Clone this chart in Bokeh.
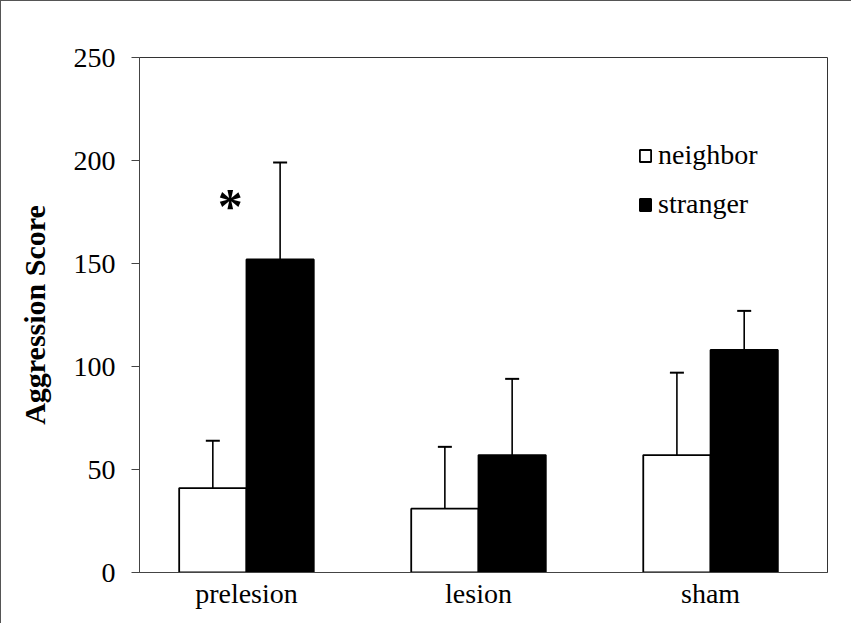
from bokeh.plotting import figure
from bokeh.models import Range1d, FixedTicker, Whisker, ColumnDataSource, Legend, LegendItem, Label
from bokeh.embed import file_html
from bokeh.resources import INLINE

categories = ["prelesion", "lesion", "sham"]
neighbor = [41, 31, 57]
neighbor_err = [23, 30, 40]
stranger = [152, 57, 108]
stranger_err = [47, 37, 19]
y_ticks = [0, 50, 100, 150, 200, 250]
series_names = ["neighbor", "stranger"]
sig_mark = "*"
sig_index = 0
sig_value = 178

FONT = "Liberation Serif"
idx = list(range(len(categories)))
off = 0.145
bw = 0.29

p = figure(width=851, height=623, output_backend="svg", toolbar_location=None,
           x_range=Range1d(-0.461, 2.504), y_range=Range1d(0, 250),
           min_border_left=138, min_border_right=25, min_border_top=56, min_border_bottom=52)
p.styles = {"border-top": "1px solid #555", "border-left": "1px solid #555"}
p.xgrid.visible = False
p.ygrid.visible = False
p.outline_line_color = "#333333"
p.outline_line_width = 1

nsrc = ColumnDataSource(dict(x=[i - off for i in idx], top=neighbor,
                             lo=[v - e for v, e in zip(neighbor, neighbor_err)],
                             hi=[v + e for v, e in zip(neighbor, neighbor_err)]))
ssrc = ColumnDataSource(dict(x=[i + off for i in idx], top=stranger,
                             lo=[v - e for v, e in zip(stranger, stranger_err)],
                             hi=[v + e for v, e in zip(stranger, stranger_err)]))

r1 = p.vbar(x="x", top="top", width=bw, source=nsrc, fill_color="white",
            line_color="black", line_width=1.8)
r2 = p.vbar(x="x", top="top", width=bw, source=ssrc, fill_color="black",
            line_color="black", line_width=1.8)

for src in (nsrc, ssrc):
    w = Whisker(base="x", lower="lo", upper="hi", source=src, line_color="black", line_width=1.6)
    w.upper_head.size = 14
    w.lower_head.size = 14
    w.upper_head.line_width = 2
    w.lower_head.line_width = 2
    p.add_layout(w)

p.add_layout(Label(x=sig_index - 0.07, y=sig_value, text=sig_mark, text_font=FONT,
                   text_font_size="50px", text_font_style="bold", text_align="center",
                   text_baseline="alphabetic", text_color="black"))

legend = Legend(items=[LegendItem(label=series_names[0], renderers=[r1]),
                       LegendItem(label=series_names[1], renderers=[r2])],
                location=(499, 352), padding=0, margin=0, spacing=17,
                glyph_width=14, glyph_height=15, label_height=30, label_standoff=6,
                label_text_font=FONT, label_text_font_size="28px", label_text_color="black",
                border_line_alpha=0, background_fill_alpha=0)
p.add_layout(legend)

p.xaxis.ticker = FixedTicker(ticks=idx)
p.xaxis.major_label_overrides = {i: c for i, c in zip(idx, categories)}
p.xaxis.major_tick_out = 0
p.xaxis.major_tick_in = 0
p.xaxis.minor_tick_line_color = None
p.xaxis.major_label_standoff = 5
p.yaxis.ticker = FixedTicker(ticks=y_ticks)
p.yaxis.major_tick_out = 8
p.yaxis.major_tick_in = 0
p.yaxis.minor_tick_line_color = None
p.yaxis.major_label_standoff = 16
p.yaxis.axis_label = "Aggression Score"
p.yaxis.axis_label_standoff = 20
p.yaxis.axis_label_text_font_style = "bold"
p.yaxis.axis_label_text_font_size = "30px"
for ax in (p.xaxis, p.yaxis):
    ax.major_label_text_font = FONT
    ax.major_label_text_font_size = "28px"
    ax.major_label_text_color = "black"
    ax.axis_label_text_font = FONT
    ax.axis_label_text_color = "black"
    ax.axis_line_color = "#444444"
    ax.major_tick_line_color = "#444444"

open("out.html", "w").write(file_html(p, INLINE))
